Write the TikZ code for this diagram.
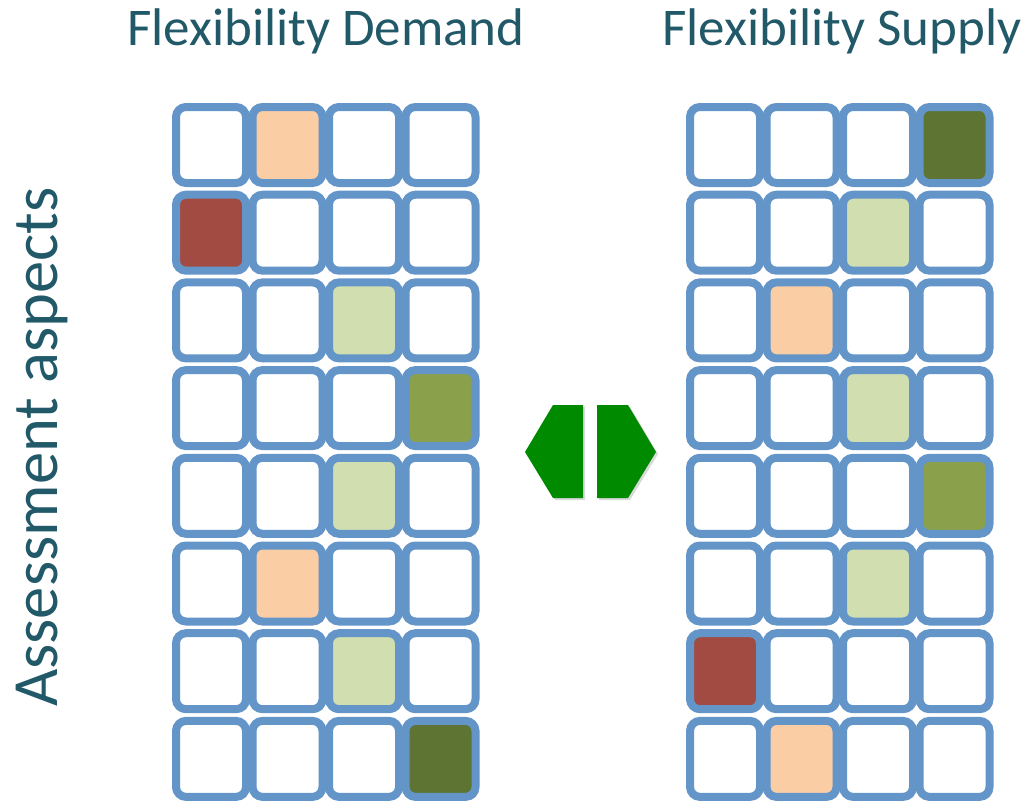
\documentclass[tikz,border=0pt]{standalone}
\usepackage{fontspec}
\setmainfont{Carlito}
\usetikzlibrary{positioning, shadows}

\definecolor{titleteal}{RGB}{33,89,104}
\definecolor{cellblue}{RGB}{99,149,201}
\definecolor{peach}{RGB}{250,205,164}
\definecolor{brick}{RGB}{161,75,67}
\definecolor{pale}{RGB}{208,222,176}
\definecolor{olive}{RGB}{138,160,74}
\definecolor{forest}{RGB}{94,116,50}
\definecolor{arrowgreen}{RGB}{0,138,0}

\begin{document}
\begin{tikzpicture}[
  x=1pt, y=-1pt,
  every node/.style={inner sep=0pt},
  title/.style={text=titleteal, font=\fontsize{53}{60}\selectfont},
  cell/.style={
    draw=cellblue, line width=8pt, rectangle, rounded corners=10pt,
    minimum width=70pt, minimum height=76pt,
    drop shadow={shadow xshift=3pt, shadow yshift=-3pt, opacity=0.45},
  },
  swap/.style={fill=arrowgreen,
    drop shadow={shadow xshift=2pt, shadow yshift=-2pt, opacity=0.3}},
]
\useasboundingbox (0,0) rectangle (1028,803);

% ── Grid geometry (pixel units) ────────────────────────────────────
\def\xD{211}
\def\xS{725}
\def\yTop{145}
\def\pitchX{76.5}
\def\pitchY{87.7}

% ── Titles ─────────────────────────────────────────────────────────
\node[title] (tDemand) at (326,31) {Flexibility Demand};
\node[title] (tSupply) at (842,31) {Flexibility Supply};
\node[title, font=\fontsize{64.5}{72}\selectfont, rotate=90] (tAspects) at (42,447)
  {Assessment aspects};

% ── Demand grid: one coloured cell per row ─────────────────────────
\foreach [count=\r] \hit/\tone in
  {2/peach, 1/brick, 3/pale, 4/olive, 3/pale, 2/peach, 3/pale, 4/forest} {
  \foreach \c in {1,...,4} {
    \ifnum\c=\hit \def\cellfill{\tone}\else\def\cellfill{white}\fi
    \node[cell, fill=\cellfill] (d-\r-\c)
      at ({\xD+(\c-1)*\pitchX}, {\yTop+(\r-1)*\pitchY}) {};
  }
}

% ── Supply grid ────────────────────────────────────────────────────
\foreach [count=\r] \hit/\tone in
  {4/forest, 3/pale, 2/peach, 3/pale, 4/olive, 3/pale, 1/brick, 2/peach} {
  \foreach \c in {1,...,4} {
    \ifnum\c=\hit \def\cellfill{\tone}\else\def\cellfill{white}\fi
    \node[cell, fill=\cellfill] (s-\r-\c)
      at ({\xS+(\c-1)*\pitchX}, {\yTop+(\r-1)*\pitchY}) {};
  }
}

% ── Matching symbol between the grids ──────────────────────────────
\fill[swap] (525,452) -- (553,405) -- (583,405) -- (583,498) -- (553,498) -- cycle;
\fill[swap] (656,452) -- (628,405) -- (597,405) -- (597,498) -- (628,498) -- cycle;

\end{tikzpicture}
\end{document}
